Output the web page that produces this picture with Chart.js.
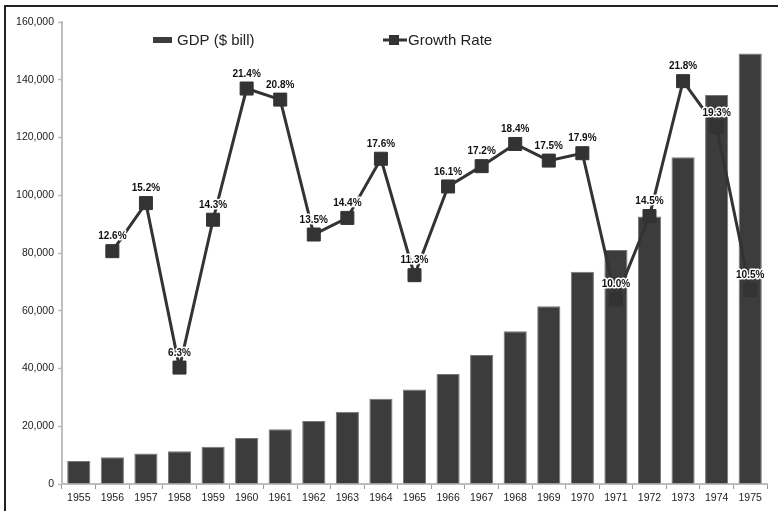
<!DOCTYPE html>
<html>
<head>
<meta charset="utf-8">
<script src="https://cdn.jsdelivr.net/npm/chart.js@4.4.1/dist/chart.umd.min.js"></script>
<style>
  html, body { margin: 0; padding: 0; background: #fff; }
  #wrap { width: 778px; height: 511px; }
</style>
</head>
<body>
<div id="wrap"><canvas id="c" width="778" height="511"></canvas></div>
<script>
// Years on the category axis
const years = ['1955','1956','1957','1958','1959','1960','1961','1962','1963','1964','1965',
               '1966','1967','1968','1969','1970','1971','1972','1973','1974','1975'];

// GDP in $ billions (bars, left axis)
const gdp = [8000, 9250, 10600, 11300, 12900, 15900, 19000, 21800, 25000, 29500, 32700,
             38100, 44700, 52900, 61600, 73500, 81000, 92600, 113200, 134700, 149100];

// Annual growth rate in % (line, hidden right scale 0–25)
const growth = [null, 12.6, 15.2, 6.3, 14.3, 21.4, 20.8, 13.5, 14.4, 17.6, 11.3,
                16.1, 17.2, 18.4, 17.5, 17.9, 10.0, 14.5, 21.8, 19.3, 10.5];

const gdpLabel = 'GDP ($ bill)';
const growthLabel = 'Growth Rate';

const FONT = '"Liberation Sans", Arial, Helvetica, sans-serif';
const BAR_COLOR = '#3c3c3c';
const LINE_COLOR = '#333333';
const AXIS_GRAY = '#bdbdbd';

// Frame drawn around the figure
const framePlugin = {
  id: 'frame',
  beforeDraw(chart) {
    const ctx = chart.ctx;
    ctx.save();
    ctx.fillStyle = '#fff';
    ctx.fillRect(0, 0, chart.width, chart.height);
    ctx.strokeStyle = '#222';
    ctx.lineWidth = 2;
    ctx.strokeRect(5, 6, chart.width + 20, chart.height + 20);
    ctx.restore();
  }
};

// Percentage labels above each growth point, with a white halo
const valueLabels = {
  id: 'valueLabels',
  afterDatasetsDraw(chart) {
    const ctx = chart.ctx;
    const meta = chart.getDatasetMeta(1);
    const data = chart.data.datasets[1].data;
    ctx.save();
    ctx.font = 'bold 10px ' + FONT;
    ctx.textAlign = 'center';
    ctx.textBaseline = 'middle';
    ctx.lineJoin = 'round';
    meta.data.forEach((pt, i) => {
      const v = data[i];
      if (v == null) return;
      const txt = v.toFixed(1) + '%';
      const y = pt.y - 14.5;
      ctx.strokeStyle = '#fff';
      ctx.lineWidth = 3;
      ctx.strokeText(txt, pt.x, y);
      ctx.fillStyle = '#111';
      ctx.fillText(txt, pt.x, y);
    });
    ctx.restore();
  }
};

// Legend placed inside the plot area
const innerLegend = {
  id: 'innerLegend',
  afterDraw(chart) {
    const ctx = chart.ctx;
    ctx.save();
    const cy = 40;
    // bar swatch
    ctx.fillStyle = BAR_COLOR;
    ctx.fillRect(153, cy - 3, 19, 6);
    // line swatch with marker
    ctx.strokeStyle = LINE_COLOR;
    ctx.lineWidth = 3;
    ctx.beginPath();
    ctx.moveTo(383, cy);
    ctx.lineTo(407, cy);
    ctx.stroke();
    ctx.fillStyle = LINE_COLOR;
    ctx.fillRect(389, cy - 5, 10, 10);
    // texts
    ctx.fillStyle = '#222';
    ctx.font = '15px ' + FONT;
    ctx.textAlign = 'left';
    ctx.textBaseline = 'middle';
    ctx.fillText(gdpLabel, 177, cy + 1);
    ctx.fillText(growthLabel, 408, cy + 1);
    ctx.restore();
  }
};

new Chart(document.getElementById('c'), {
  data: {
    labels: years,
    datasets: [
      {
        type: 'bar',
        label: gdpLabel,
        data: gdp,
        yAxisID: 'y',
        backgroundColor: BAR_COLOR,
        borderColor: '#777',
        borderWidth: 1,
        categoryPercentage: 1.0,
        barPercentage: 0.69,
        order: 2
      },
      {
        type: 'line',
        label: growthLabel,
        data: growth,
        yAxisID: 'y1',
        borderColor: LINE_COLOR,
        borderWidth: 3,
        backgroundColor: LINE_COLOR,
        pointStyle: 'rect',
        pointRadius: 9.2,
        pointBorderWidth: 1,
        pointBorderColor: LINE_COLOR,
        pointBackgroundColor: LINE_COLOR,
        tension: 0,
        spanGaps: false,
        order: 1
      }
    ]
  },
  options: {
    responsive: false,
    animation: false,
    devicePixelRatio: 1,
    layout: { padding: { top: 22, right: 11, left: 0, bottom: 0 } },
    plugins: {
      legend: { display: false },
      tooltip: { enabled: false }
    },
    scales: {
      x: {
        offset: true,
        grid: {
          offset: true,
          drawOnChartArea: false,
          drawTicks: true,
          tickLength: 5,
          tickColor: '#9a9a9a',
          tickWidth: 1
        },
        border: { display: true, color: AXIS_GRAY, width: 2 },
        ticks: {
          color: '#222',
          font: { family: FONT, size: 10.5 },
          padding: 3,
          maxRotation: 0,
          autoSkip: false
        },
        afterFit(scale) { scale.height = 27; }
      },
      y: {
        position: 'left',
        min: 0,
        max: 160000,
        grid: {
          drawOnChartArea: false,
          drawTicks: true,
          tickLength: 4,
          tickColor: AXIS_GRAY,
          tickWidth: 1.5
        },
        border: { display: true, color: AXIS_GRAY, width: 2 },
        ticks: {
          stepSize: 20000,
          color: '#222',
          font: { family: FONT, size: 10.5 },
          padding: 4,
          callback: v => v.toLocaleString('en-US')
        },
        afterFit(scale) { scale.width = 62; }
      },
      y1: {
        display: false,
        min: 0,
        max: 25
      }
    }
  },
  plugins: [framePlugin, valueLabels, innerLegend]
});
</script>
</body>
</html>
